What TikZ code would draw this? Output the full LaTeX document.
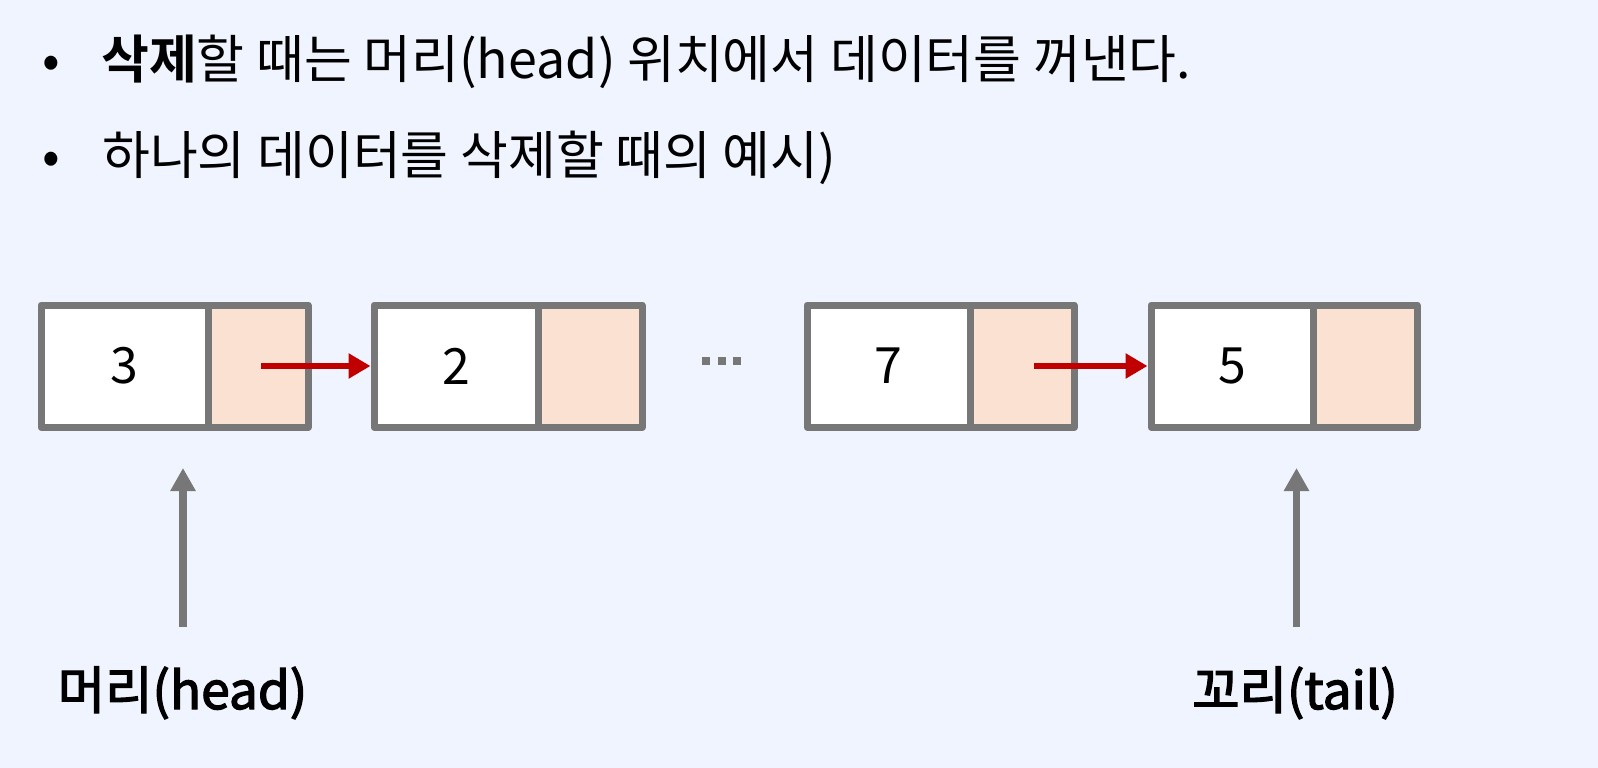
\documentclass[tikz,border=0pt]{standalone}
\usepackage{fontspec}
\setmainfont{Noto Sans CJK KR}[BoldFont={* Bold}]
\newfontfamily\lblfont{Noto Sans CJK KR}[BoldFont={Noto Sans CJK KR}, BoldFeatures={FakeBold=2.5}]
\usetikzlibrary{arrows.meta}
\definecolor{bgc}{HTML}{EFF4FE}
\definecolor{boxgray}{HTML}{777777}
\definecolor{peach}{HTML}{FAE1D1}
\definecolor{ptrred}{HTML}{C00000}
\tikzset{
  cellline/.style={draw=boxgray, line width=7pt, line join=round},
  datacell/.style={cellline, fill=white},
  ptrcell/.style={cellline, fill=peach},
  numtxt/.style={font=\fontsize{50}{60}\selectfont, anchor=center, inner sep=0pt},
  linktip/.style={-{Triangle[length=22pt,width=24pt]}, draw=ptrred, line width=6pt},
  markarrow/.style={-{Triangle[length=23pt,width=24pt]}, draw=boxgray, line width=7.5pt},
  bodytxt/.style={font=\fontsize{52}{60}\selectfont, anchor=base west, inner sep=0pt},
  bullettxt/.style={font=\fontsize{52}{60}\selectfont, anchor=base, inner sep=0pt},
  labeltxt/.style={font=\lblfont\bfseries\fontsize{51.5}{60}\selectfont, anchor=base, inner sep=0pt},
  dotsq/.style={fill=boxgray, minimum size=8pt, inner sep=0pt}
}
\begin{document}
\begin{tikzpicture}[x=1pt, y=-1pt]
\fill[bgc] (0,0) rectangle (1598,768);
\useasboundingbox (0,0) rectangle (1598,768);

% bullets
\node[bullettxt] (b1) at (51,78) {•};
\node[bodytxt] (t1) at (101,78) {\textbf{삭제}할 때는 머리(head) 위치에서 데이터를 꺼낸다.};
\node[bullettxt] (b2) at (51,174) {•};
\node[bodytxt] (t2) at (102,174) {하나의 데이터를 삭제할 때의 예시)};

% boxes
\foreach \n/\L/\D/\R in {a/41/208/308, b/374/538/642, c/807/970/1074, d/1151/1313/1417}{
  \draw[datacell] (\L,305) rectangle (\D,427.5);
  \draw[ptrcell] (\D,305) rectangle (\R,427.5);
  \coordinate (\n-d) at ({(\L+\D)/2},366);
  \coordinate (\n-p) at ({(\D+\R)/2},366);
  \coordinate (\n-in) at ({\L-3.5},366);
}
\node[numtxt] (n3) at (a-d) {3};
\node[numtxt] (n2) at (b-d) {2};
\node[numtxt] (n7) at (c-d) {7};
\node[numtxt] (n5) at (d-d) {5};

% dots
\node[dotsq] (dt1) at (706,360.7) {};
\node[dotsq] (dt2) at (721.7,360.7) {};
\node[dotsq] (dt3) at (737.3,360.7) {};

% links
\coordinate (s1) at (261,366);
\coordinate (s2) at (1034,366);
\draw[linktip] (s1) -- (b-in);
\draw[linktip] (s2) -- (d-in);

% head/tail markers
\coordinate (hs) at (183,627);
\coordinate (he) at (183,468);
\coordinate (ts) at (1296.5,627);
\coordinate (te) at (1296.5,468);
\draw[markarrow] (hs) -- (he);
\draw[markarrow] (ts) -- (te);

\node[labeltxt] (hl) at (182.5,709) {머리(head)};
\node[labeltxt] (tl) at (1295,709) {꼬리(tail)};
\end{tikzpicture}
\end{document}
